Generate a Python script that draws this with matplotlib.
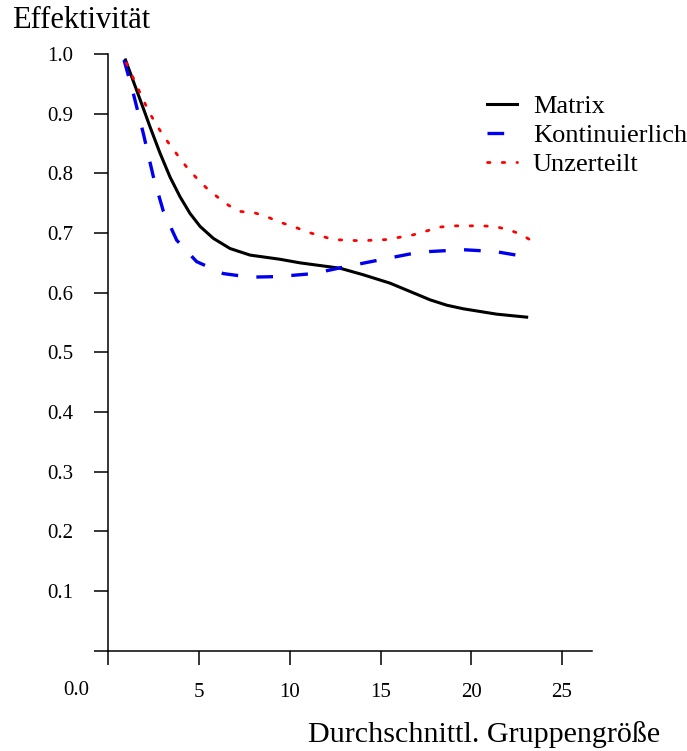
import matplotlib
matplotlib.use("Agg")
import matplotlib.pyplot as plt

plt.rcParams['font.family'] = ['Liberation Serif', 'DejaVu Serif']

# values
matrix_x = [0.95, 1.93, 2.30, 2.85, 3.40, 3.95, 4.50, 5.06, 5.79, 6.71, 7.81, 9.46, 10.56,
            12.77, 14.05, 15.52, 17.18, 17.73, 18.65, 19.56, 21.40, 23.05]
matrix_y = [0.990, 0.909, 0.878, 0.834, 0.794, 0.761, 0.733, 0.711, 0.691, 0.674, 0.663, 0.656, 0.650,
            0.641, 0.630, 0.616, 0.595, 0.588, 0.579, 0.573, 0.564, 0.559]

kont_x = [0.87, 1.38, 1.93, 2.48, 3.03, 3.77, 4.87, 6.34, 7.81, 9.37, 11.30, 13.14, 14.97,
          16.81, 17.73, 19.56, 21.31, 22.87, 23.2]
kont_y = [0.990, 0.934, 0.867, 0.795, 0.737, 0.688, 0.652, 0.632, 0.626, 0.627, 0.632, 0.644, 0.655,
          0.666, 0.669, 0.672, 0.669, 0.661, 0.659]

unz_x = [1.0, 1.93, 2.26, 2.63, 3.03, 3.49, 3.95, 4.41, 4.93, 5.46, 6.03, 6.65, 7.31, 8.05, 8.76,
         9.46, 10.20, 10.93, 12.40, 13.87, 15.34, 16.81, 18.28, 19.01, 19.78, 20.54, 21.27, 22.01,
         22.72, 23.33]
unz_y = [0.985, 0.923, 0.902, 0.883, 0.863, 0.844, 0.825, 0.807, 0.790, 0.774, 0.760, 0.746, 0.736,
         0.734, 0.727, 0.718, 0.711, 0.702, 0.689, 0.687, 0.689, 0.697, 0.710, 0.712, 0.712, 0.712,
         0.711, 0.706, 0.698, 0.687]

xticks = [0, 5, 10, 15, 20, 25]
yticks = [0.0, 0.1, 0.2, 0.3, 0.4, 0.5, 0.6, 0.7, 0.8, 0.9, 1.0]

W, H = 687, 751
fig = plt.figure(figsize=(W / 100, H / 100), dpi=100)
ax = fig.add_axes([108.25 / W, 100.3 / H, (592 - 108.25) / W, 596.7 / H])

ax.plot(matrix_x, matrix_y, color='black', lw=2.2, label='Matrix', clip_on=False)
ax.plot(kont_x, kont_y, color='#0000ee', lw=2.4, linestyle=(0, (5.0, 5.5)),
        label='Kontinuierlich', clip_on=False)
ax.plot(unz_x, unz_y, color='red', lw=2.0, linestyle=(0, (0.9, 4.4)),
        dash_capstyle='round', label='Unzerteilt', clip_on=False)

ax.set_xlim(0, 26.65)
ax.set_ylim(0, 1.0)
for s in ['top', 'right']:
    ax.spines[s].set_visible(False)
for s in ['left', 'bottom']:
    ax.spines[s].set_linewidth(1.1)

ax.set_xticks(xticks)
ax.set_xticklabels([''] + [str(t) for t in xticks[1:]])
ax.set_yticks(yticks)
ax.set_yticklabels([''] + ['%.1f' % t for t in yticks[1:]])
ax.tick_params(axis='x', direction='out', length=10, width=1.1, pad=13, labelsize=15)
ax.tick_params(axis='y', direction='out', length=10, width=1.1, pad=15, labelsize=15)

fig.text(89 / W, 1 - 695 / H, '0.0', ha='right', va='baseline', fontsize=15)
fig.text(12 / W, 1 - 28 / H, 'Effektivität', ha='left', va='baseline', fontsize=22)
fig.text(660 / W, 1 - 742 / H, 'Durchschnittl. Gruppengröße', ha='right', va='baseline', fontsize=21.6)

ax.legend(loc='upper left', bbox_to_anchor=(487 / W, 1 - 95 / H), bbox_transform=fig.transFigure,
          frameon=False, fontsize=19, handlelength=1.14, handletextpad=0.6,
          labelspacing=0.2, borderpad=0, borderaxespad=0)

fig.savefig('out.png', dpi=100)
